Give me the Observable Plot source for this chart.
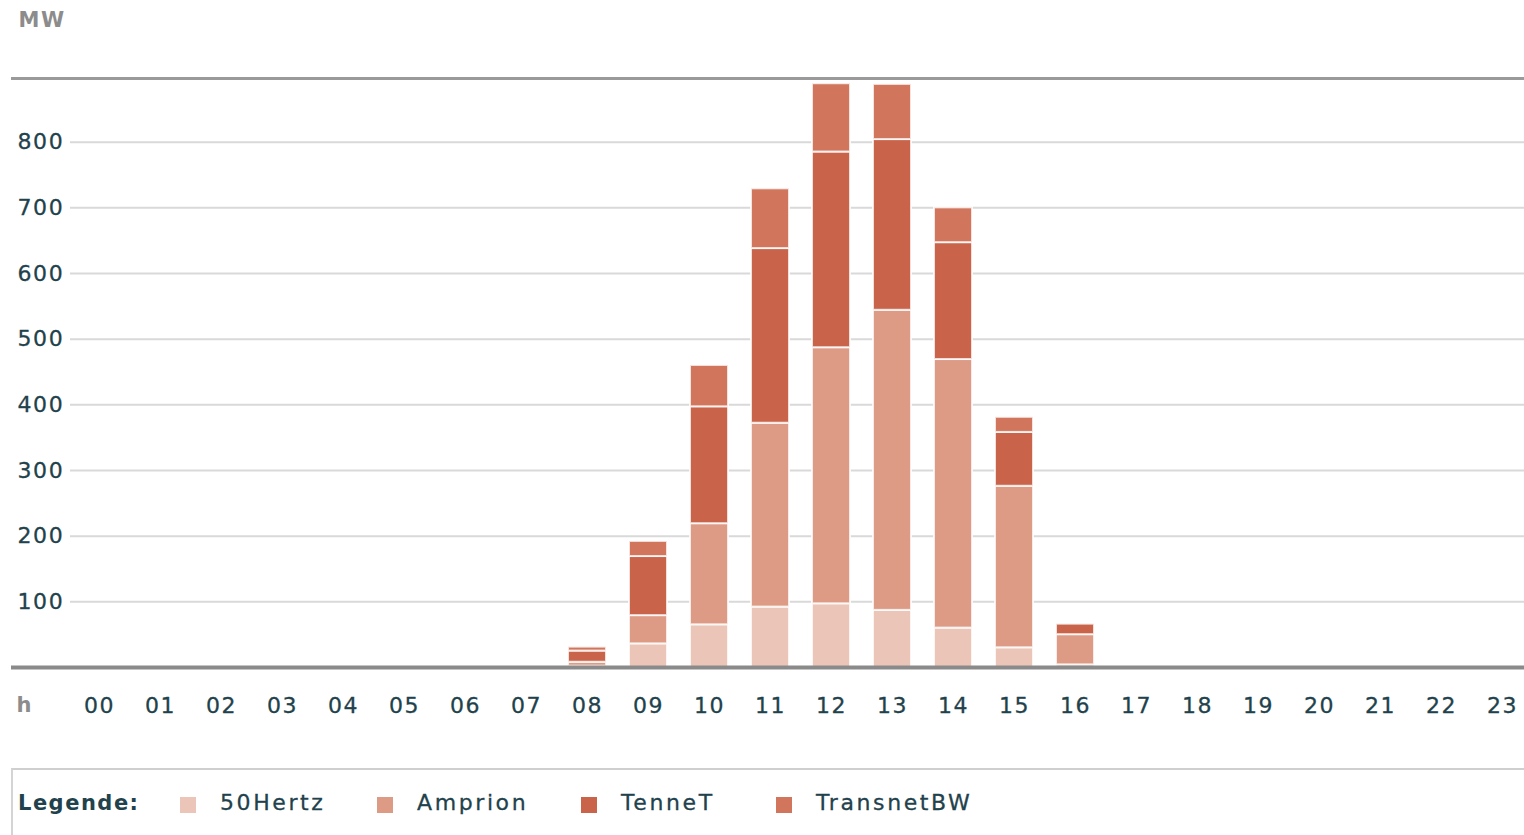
<!DOCTYPE html>
<html>
<head>
<meta charset="utf-8">
<script src="https://cdn.jsdelivr.net/npm/d3@7"></script>
<script src="https://cdn.jsdelivr.net/npm/@observablehq/plot@0.6"></script>
<style>
  html, body { margin: 0; padding: 0; background: #fff; }
  #wrap { position: relative; width: 1524px; height: 835px; overflow: hidden; font-family: "DejaVu Sans", Verdana, sans-serif; }
  #chart svg { display: block; }
  #legend { position: absolute; left: 11px; top: 768px; width: 1530px; height: 80px; box-sizing: border-box;
            border-top: 2px solid #cfcfcf; border-left: 2px solid #d4d4d4; }
  #legend .lbl { position: absolute; top: 21px; left: 5px; font-weight: bold; font-size: 21px; letter-spacing: 1.5px; color: #1f424c; }
  #legend .sw { position: absolute; top: 27px; width: 16px; height: 16px; }
  #legend .txt { position: absolute; top: 20px; font-size: 22px; letter-spacing: 2.6px; color: #1f424c; -webkit-text-stroke: 0.3px #1f424c; }
</style>
</head>
<body>
<div id="wrap">
  <div id="chart"></div>
  <div id="legend"></div>
</div>
<script>
// ---- data ----
const hours = ["00","01","02","03","04","05","06","07","08","09","10","11","12","13","14","15","16","17","18","19","20","21","22","23"];
const barHours = ["08","09","10","11","12","13","14","15","16"];
const tsos = ["50Hertz", "Amprion", "TenneT", "TransnetBW"];
const tsoColors = ["#ebc6b8", "#dd9b85", "#c9634a", "#d1765c"];
const v50Hertz    = [2, 36, 65, 92, 97, 87, 60, 30, 4];
const vAmprion    = [6, 43, 154, 280, 390, 457, 409, 246, 46];
const vTenneT     = [17, 90, 178, 266, 298, 260, 178, 82, 16];
const vTransnetBW = [6, 23, 63, 91, 104, 84, 53, 23, 0];
const yTicks = [100, 200, 300, 400, 500, 600, 700, 800];
const yMax = 897;
const yUnit = "MW";
const xUnit = "h";
const legendTitle = "Legende:";

const series = [v50Hertz, vAmprion, vTenneT, vTransnetBW];
const rows = barHours.flatMap((h, i) => tsos.map((t, j) => ({hour: h, tso: t, value: series[j][i]})));

const textColor = "#1f424c";

const chart = Plot.plot({
  width: 1524,
  height: 760,
  marginLeft: 70,
  marginRight: 0,
  marginTop: 78,
  marginBottom: 93,
  style: {fontFamily: "'DejaVu Sans', Verdana, sans-serif", fontSize: "22px", letterSpacing: "1.6px", overflow: "visible", background: "transparent"},
  x: {type: "band", domain: hours, range: [68.5, 1533.5], paddingInner: 0.377, paddingOuter: 0.1885, axis: null},
  y: {domain: [0, yMax], axis: null},
  color: {domain: tsos, range: tsoColors},
  marks: [
    Plot.gridY(yTicks, {stroke: "#d9d9d9", strokeOpacity: 1, strokeWidth: 2}),
    Plot.barY(rows, {x: "hour", y: "value", fill: "tso", order: tsos, stroke: "#fff", strokeWidth: 2, strokeOpacity: 0.8}),
    Plot.ruleY([yMax], {stroke: "#9a9a9a", strokeWidth: 3, insetLeft: -59}),
    Plot.ruleY([0], {stroke: "#8a8a8a", strokeWidth: 4, insetLeft: -59}),
    Plot.text(yTicks, {y: d => d, text: d => String(d), frameAnchor: "left", textAnchor: "start", lineAnchor: "middle", dx: -53, fill: textColor, stroke: textColor, strokeWidth: 0.3}),
    Plot.text(hours, {x: d => d, text: d => d, frameAnchor: "bottom", lineAnchor: "middle", dy: 38, fill: textColor, stroke: textColor, strokeWidth: 0.3}),
    Plot.text([yUnit], {text: d => d, frameAnchor: "top-left", textAnchor: "start", lineAnchor: "middle", dx: -52, dy: -58, fontWeight: "bold", fill: "#8c8c8c", fontSize: 21}),
    Plot.text([xUnit], {text: d => d, frameAnchor: "bottom-left", textAnchor: "start", lineAnchor: "middle", dx: -54, dy: 38, fontWeight: "bold", fill: "#8c8c8c", fontSize: 21})
  ]
});
document.getElementById("chart").appendChild(chart);

// ---- legend ----
const legend = document.getElementById("legend");
const lbl = document.createElement("span");
lbl.className = "lbl";
lbl.textContent = legendTitle;
legend.appendChild(lbl);
const swLeft = [167, 364, 568, 763];
tsos.forEach((t, i) => {
  const sw = document.createElement("span");
  sw.className = "sw";
  sw.style.left = swLeft[i] + "px";
  sw.style.background = tsoColors[i];
  legend.appendChild(sw);
  const tx = document.createElement("span");
  tx.className = "txt";
  tx.style.left = (swLeft[i] + 40) + "px";
  tx.textContent = t;
  legend.appendChild(tx);
});
</script>
</body>
</html>
